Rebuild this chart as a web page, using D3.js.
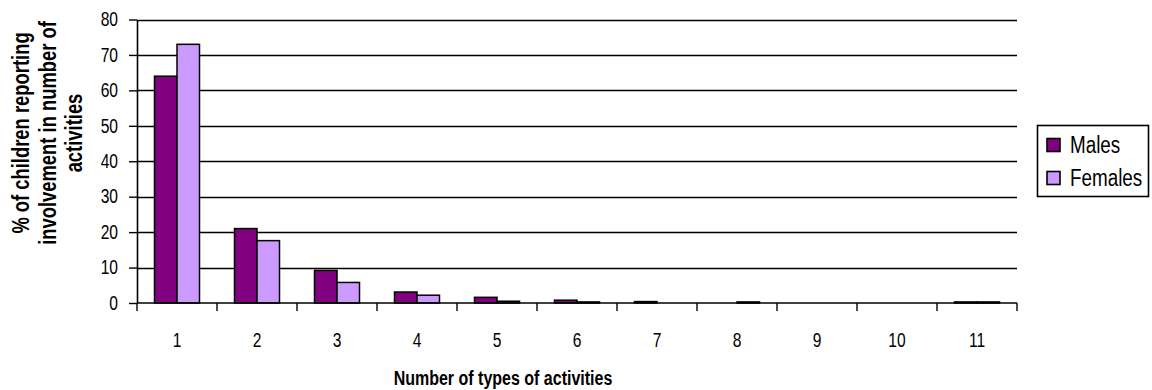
<!DOCTYPE html>
<html>
<head>
<meta charset="utf-8">
<script src="https://cdn.jsdelivr.net/npm/d3@7"></script>
<style>
  html, body { margin: 0; padding: 0; background: #fff; }
  svg { display: block; font-family: "Liberation Sans", Arial, sans-serif; }
</style>
</head>
<body>
<svg id="chart" width="1152" height="390"></svg>
<script>
// Number of activity types reported (x categories)
const categories = ["1", "2", "3", "4", "5", "6", "7", "8", "9", "10", "11"];
// Percentage of children per number of activity types
const males   = [64, 21, 9.2, 3.1, 1.6, 0.8, 0.4, 0, 0, 0, 0.3];
const females = [73, 17.6, 5.8, 2.2, 0.5, 0.3, 0, 0.3, 0, 0, 0.3];
const seriesNames = ["Males", "Females"];
const seriesColors = ["#800080", "#CC99FF"];
const yTicks = [0, 10, 20, 30, 40, 50, 60, 70, 80];

const FONT = "'Liberation Sans', Arial, sans-serif";
const NARROW = 0.8;   // horizontal squeeze for a narrow face look

// position a text with a transform and squeeze it along its baseline
function squeezed(sel, fx, fy, rot = 0, factor = NARROW) {
  sel.attr("x", 0).attr("y", 0)
     .attr("transform", (d, i) =>
       `translate(${fx(d, i)},${fy(d, i)})` + (rot ? ` rotate(${rot})` : "") + ` scale(${factor},1)`);
}

const svg = d3.select("#chart");
const plot = { left: 137, right: 1017, top: 19.5, bottom: 303 };

const x = d3.scaleBand()
  .domain(categories)
  .range([plot.left, plot.right])
  .paddingInner(0.4375)
  .paddingOuter(0.21875);

const xSeries = d3.scaleBand()
  .domain(seriesNames)
  .range([0, x.bandwidth()]);

const y = d3.scaleLinear()
  .domain([0, 80])
  .range([plot.bottom, plot.top]);

// horizontal gridlines
svg.append("g")
  .selectAll("line")
  .data(yTicks.filter(d => d > 0))
  .join("line")
  .attr("x1", plot.left)
  .attr("x2", plot.right)
  .attr("y1", d => Math.round(y(d)) + 0.5)
  .attr("y2", d => Math.round(y(d)) + 0.5)
  .attr("stroke", "#000")
  .attr("stroke-width", 1.5);

// bars
const rows = categories.map((c, i) => ({ cat: c, values: [males[i], females[i]] }));
const groups = svg.append("g")
  .selectAll("g")
  .data(rows)
  .join("g")
  .attr("transform", d => `translate(${x(d.cat)},0)`);

groups.selectAll("rect")
  .data(d => d.values.map((v, k) => ({ name: seriesNames[k], value: v, color: seriesColors[k] })))
  .join("rect")
  .attr("x", d => xSeries(d.name))
  .attr("width", xSeries.bandwidth())
  .attr("y", d => y(d.value))
  .attr("height", d => plot.bottom - y(d.value))
  .attr("fill", d => d.color)
  .attr("stroke", "#000")
  .attr("stroke-width", 1.5);

// y axis
const Y_TICK = 8, Y_PAD = 11;
const yAxis = svg.append("g")
  .attr("transform", `translate(${plot.left},0)`)
  .call(d3.axisLeft(y).tickValues(yTicks).tickSize(Y_TICK).tickPadding(Y_PAD).tickSizeOuter(0));
yAxis.select(".domain").attr("stroke", "#000").attr("stroke-width", 1.6);
yAxis.selectAll(".tick line").attr("stroke", "#000").attr("stroke-width", 1.4);
yAxis.selectAll(".tick text")
  .attr("font-size", 19.5)
  .attr("fill", "#000")
  .attr("font-family", FONT)
  .call(squeezed, () => -(Y_TICK + Y_PAD), () => 0);

// x axis: ticks sit on category boundaries, labels at category centres
const xAxisG = svg.append("g");
xAxisG.append("line")
  .attr("x1", plot.left).attr("x2", plot.right)
  .attr("y1", plot.bottom).attr("y2", plot.bottom)
  .attr("stroke", "#000").attr("stroke-width", 1.6);
const boundaries = categories.map(c => x(c) - x.step() * x.paddingInner() / 2).concat([plot.right]);
xAxisG.selectAll("line.tick")
  .data(boundaries)
  .join("line")
  .attr("class", "tick")
  .attr("x1", d => d).attr("x2", d => d)
  .attr("y1", plot.bottom).attr("y2", plot.bottom + 8)
  .attr("stroke", "#000").attr("stroke-width", 1.4);
xAxisG.selectAll("text")
  .data(categories)
  .join("text")
  .attr("text-anchor", "middle")
  .attr("font-size", 19.5)
  .text(d => d)
  .call(squeezed, d => x(d) + x.bandwidth() / 2, () => 347);

// axis titles
svg.append("text")
  .attr("text-anchor", "middle")
  .attr("font-size", 20)
  .attr("font-weight", "bold")
  .text("Number of types of activities")
  .call(squeezed, () => 503, () => 385);

const yTitleLines = ["% of children reporting", "involvement in number of", "activities"];
svg.append("g")
  .selectAll("text")
  .data(yTitleLines)
  .join("text")
  .attr("text-anchor", "middle")
  .attr("dominant-baseline", "central")
  .attr("font-size", 23)
  .attr("font-weight", "bold")
  .text(d => d)
  .call(squeezed, (d, i) => 21 + i * 26.5, () => 133, -90);

// legend
const legend = svg.append("g");
legend.append("rect")
  .attr("x", 1037.5).attr("y", 125.5)
  .attr("width", 111).attr("height", 71)
  .attr("fill", "#fff")
  .attr("stroke", "#000").attr("stroke-width", 1.6);
const items = legend.selectAll("g")
  .data(seriesNames)
  .join("g")
  .attr("transform", (d, i) => `translate(1047,${145 + i * 33})`);
items.append("rect")
  .attr("x", 0).attr("y", -6.5)
  .attr("width", 13).attr("height", 13)
  .attr("fill", (d, i) => seriesColors[i])
  .attr("stroke", "#000").attr("stroke-width", 1.6);
items.append("text")
  .attr("dominant-baseline", "central")
  .attr("font-size", 23)
  .text(d => d)
  .call(squeezed, () => 23, () => 0, 0, 0.82);
</script>
</body>
</html>
